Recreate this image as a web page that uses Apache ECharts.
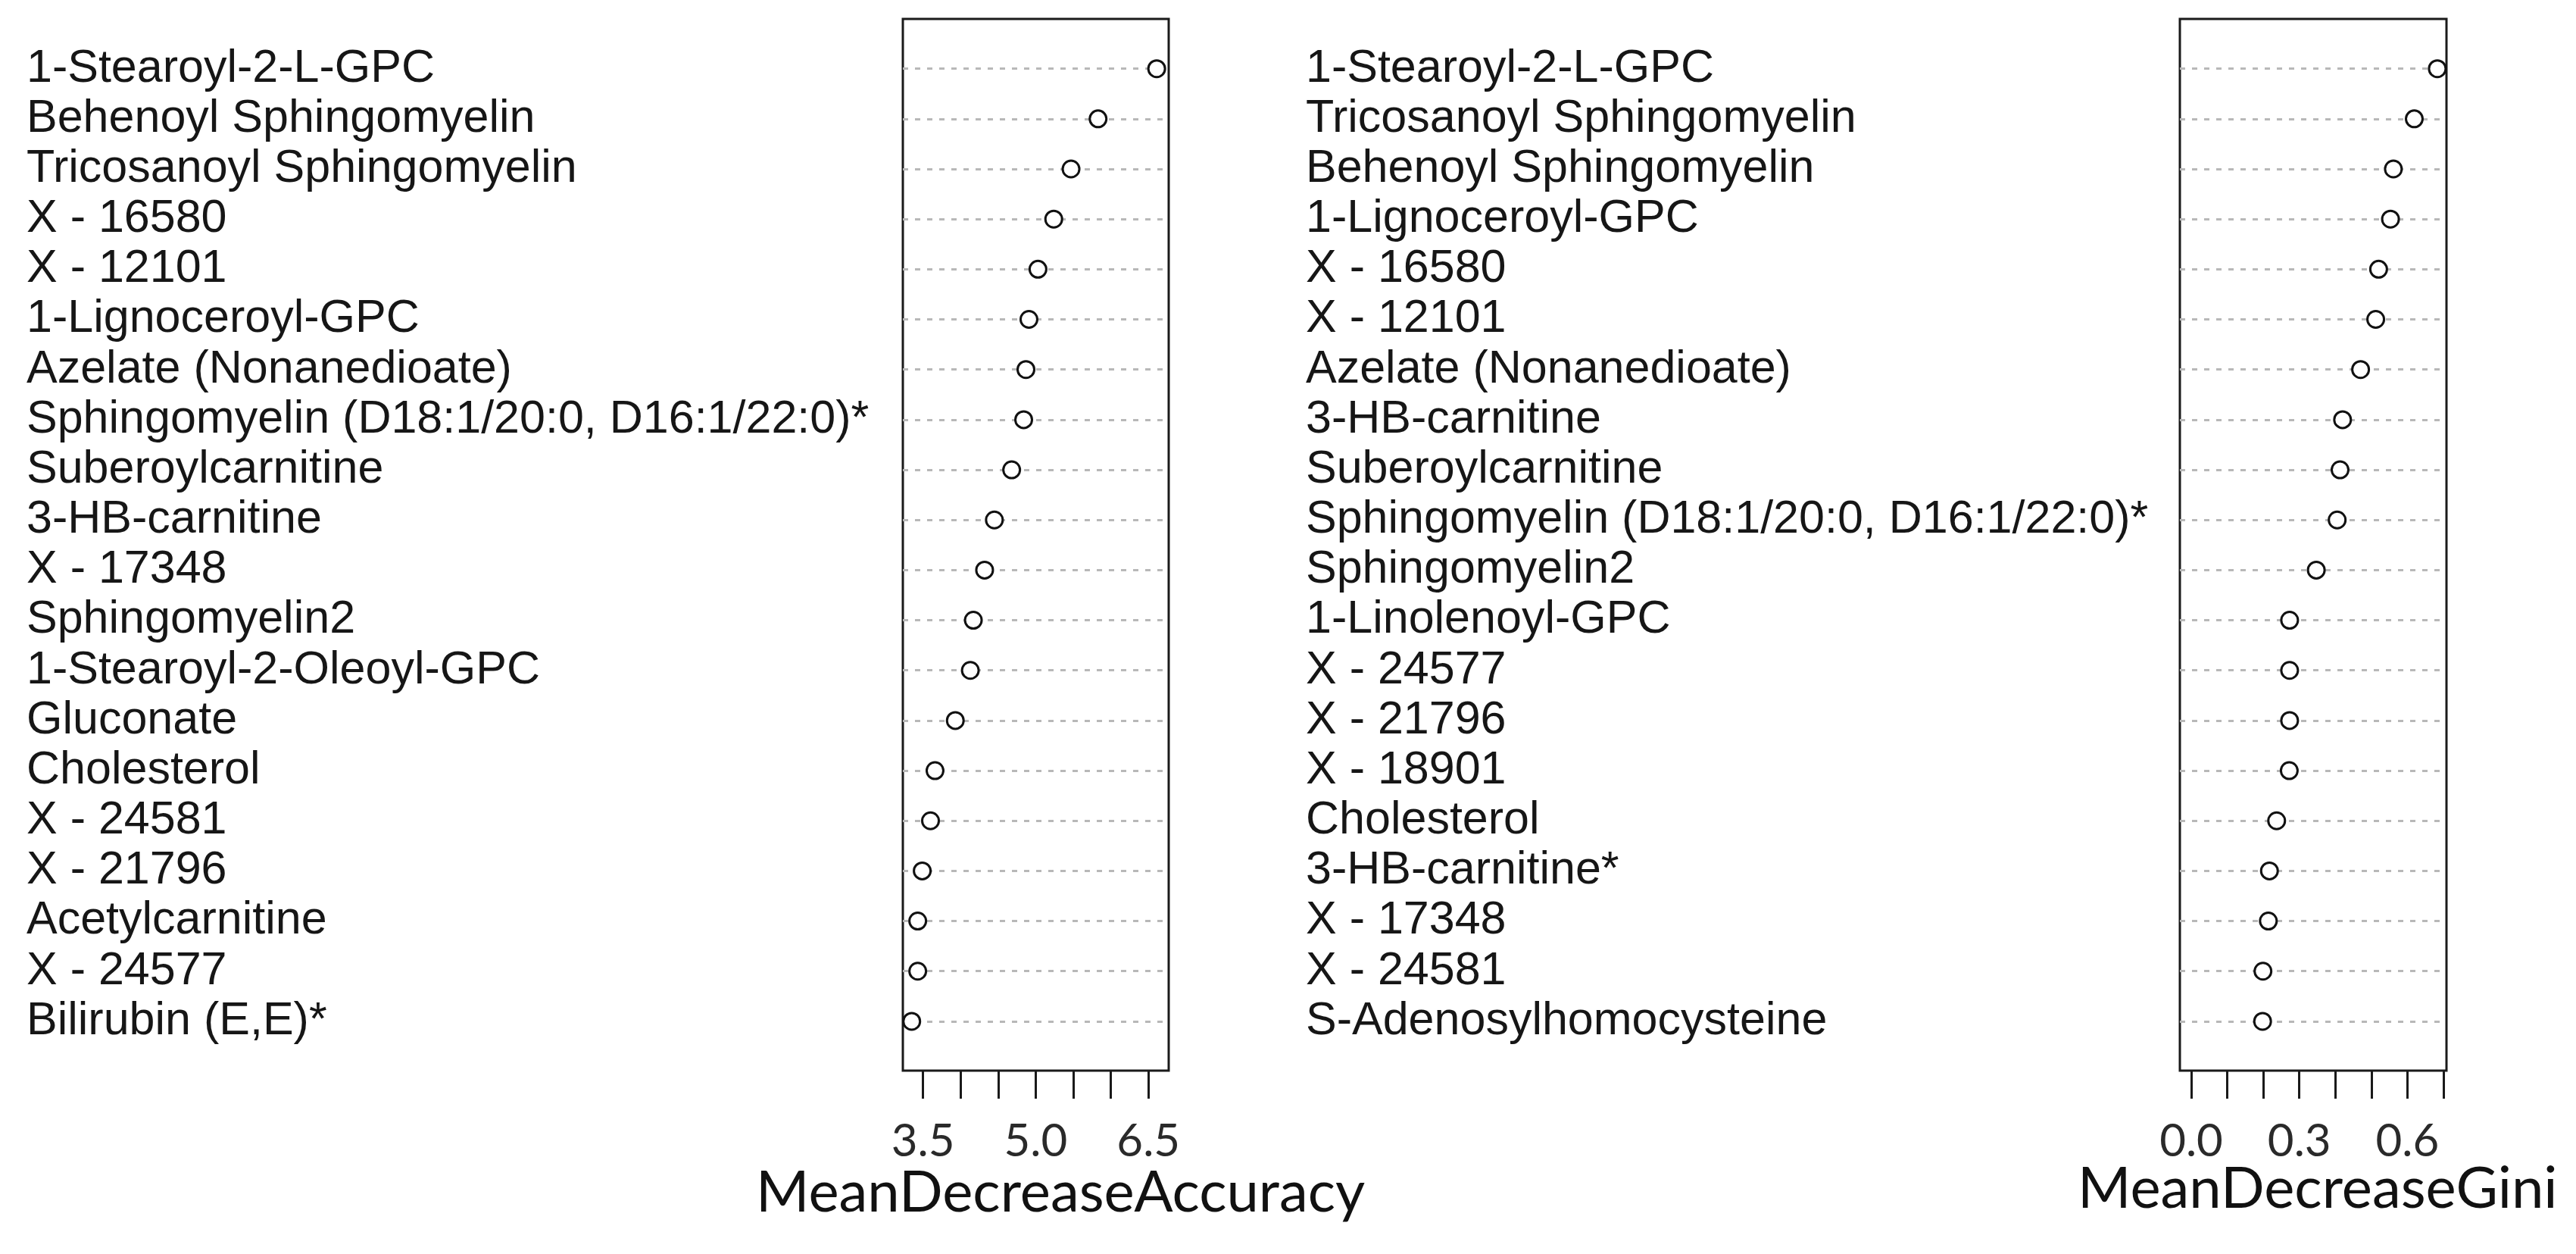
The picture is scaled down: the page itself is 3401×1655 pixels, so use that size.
<!DOCTYPE html>
<html>
<head>
<meta charset="utf-8">
<script src="https://cdn.jsdelivr.net/npm/echarts@6/dist/echarts.min.js"></script>
<style>
html,body{margin:0;padding:0;background:#fff;}
#chart{width:3401px;height:1655px;}
</style>
</head>
<body>
<div id="chart"></div>
<script>
// ---- Data ----
const accCategories = [
  '1-Stearoyl-2-L-GPC','Behenoyl Sphingomyelin','Tricosanoyl Sphingomyelin','X - 16580','X - 12101',
  '1-Lignoceroyl-GPC','Azelate (Nonanedioate)','Sphingomyelin (D18:1/20:0, D16:1/22:0)*','Suberoylcarnitine',
  '3-HB-carnitine','X - 17348','Sphingomyelin2','1-Stearoyl-2-Oleoyl-GPC','Gluconate','Cholesterol',
  'X - 24581','X - 21796','Acetylcarnitine','X - 24577','Bilirubin (E,E)*'
];
const accValues = [6.61, 5.83, 5.47, 5.24, 5.03, 4.91, 4.87, 4.84, 4.68, 4.45, 4.32, 4.17, 4.13, 3.93, 3.66, 3.60, 3.49, 3.43, 3.43, 3.35];
const accTicks = [3.5, 4.0, 4.5, 5.0, 5.5, 6.0, 6.5];
const accTickLabels = [3.5, 5.0, 6.5];

const giniCategories = [
  '1-Stearoyl-2-L-GPC','Tricosanoyl Sphingomyelin','Behenoyl Sphingomyelin','1-Lignoceroyl-GPC','X - 16580',
  'X - 12101','Azelate (Nonanedioate)','3-HB-carnitine','Suberoylcarnitine','Sphingomyelin (D18:1/20:0, D16:1/22:0)*',
  'Sphingomyelin2','1-Linolenoyl-GPC','X - 24577','X - 21796','X - 18901','Cholesterol','3-HB-carnitine*',
  'X - 17348','X - 24581','S-Adenosylhomocysteine'
];
const giniValues = [0.683, 0.619, 0.561, 0.553, 0.520, 0.512, 0.470, 0.420, 0.413, 0.405, 0.347, 0.273, 0.273, 0.273, 0.272, 0.237, 0.217, 0.214, 0.199, 0.198];
const giniTicks = [0.0, 0.1, 0.2, 0.3, 0.4, 0.5, 0.6, 0.7];
const giniTickLabels = [0.0, 0.3, 0.6];

const accTitle = 'MeanDecreaseAccuracy';
const giniTitle = 'MeanDecreaseGini';

// ---- Styles ----
const INK = '#1a1a1a';
const labelFont = {fontFamily: 'Liberation Sans', fontSize: 61, color: '#161616'};
const tickFont = {fontFamily: 'Lato', fontSize: 60, color: '#2a2a2a'};

function panel(idx, left, width, xmin, xmax, cats, ticks, tickLabels, labelMargin) {
  const gData = idx * 2, gBox = idx * 2 + 1;
  return {
    grids: [
      {left: left, top: 57.6, width: width, height: 1323.4},
      {left: left, top: 25, width: width, height: 1388, show: true, borderColor: INK, borderWidth: 3, backgroundColor: 'transparent'}
    ],
    xAxes: [
      {gridIndex: gData, type: 'value', min: xmin, max: xmax, show: false},
      {gridIndex: gBox, type: 'value', min: xmin, max: xmax,
        axisLine: {show: false}, splitLine: {show: false},
        axisTick: {show: true, inside: false, length: 37, customValues: ticks, lineStyle: {color: INK, width: 3}},
        axisLabel: Object.assign({customValues: tickLabels, margin: 64, formatter: v => Number(v).toFixed(1)}, tickFont)}
    ],
    yAxes: [
      {gridIndex: gData, type: 'category', inverse: true, data: cats,
        axisLine: {show: false}, axisTick: {show: false}, splitLine: {show: false},
        axisLabel: Object.assign({align: 'left', margin: labelMargin, interval: 0}, labelFont)},
      {gridIndex: gBox, type: 'value', show: false}
    ]
  };
}

const pL = panel(0, 1192, 351, 3.232, 6.77, accCategories, accTicks, accTickLabels, 1157);
const pR = panel(1, 2878, 352, -0.0316, 0.7084, giniCategories, giniTicks, giniTickLabels, 1154);

function guideSeries(xi, cats) {
  return {
    type: 'scatter', xAxisIndex: xi, yAxisIndex: xi, data: [], z: 1, silent: true,
    markLine: {
      silent: true, symbol: ['none', 'none'], label: {show: false}, animation: false,
      lineStyle: {type: [7, 9], color: '#b8b8b8', width: 3},
      emphasis: {disabled: true},
      data: cats.map((c, i) => ({yAxis: i}))
    }
  };
}
function pointSeries(xi, vals) {
  return {
    type: 'scatter', xAxisIndex: xi, yAxisIndex: xi, z: 5, clip: false,
    symbol: 'circle', symbolSize: 22,
    itemStyle: {color: '#ffffff', borderColor: '#111', borderWidth: 3, opacity: 1},
    data: vals.map((v, i) => [v, i])
  };
}

const chart = echarts.init(document.getElementById('chart'), null, {renderer: 'canvas'});
chart.setOption({
  animation: false,
  backgroundColor: '#ffffff',
  grid: pL.grids.concat(pR.grids),
  xAxis: pL.xAxes.concat(pR.xAxes),
  yAxis: pL.yAxes.concat(pR.yAxes),
  series: [
    guideSeries(0, accCategories), pointSeries(0, accValues),
    guideSeries(2, giniCategories), pointSeries(2, giniValues)
  ],
  graphic: [
    {type: 'text', left: 998, top: 1536, style: {text: accTitle, fontFamily: 'Lato', fontSize: 76, fill: '#111'}},
    {type: 'text', left: 2743, top: 1531, style: {text: giniTitle, fontFamily: 'Lato', fontSize: 76, fill: '#111'}}
  ]
});
</script>
</body>
</html>
